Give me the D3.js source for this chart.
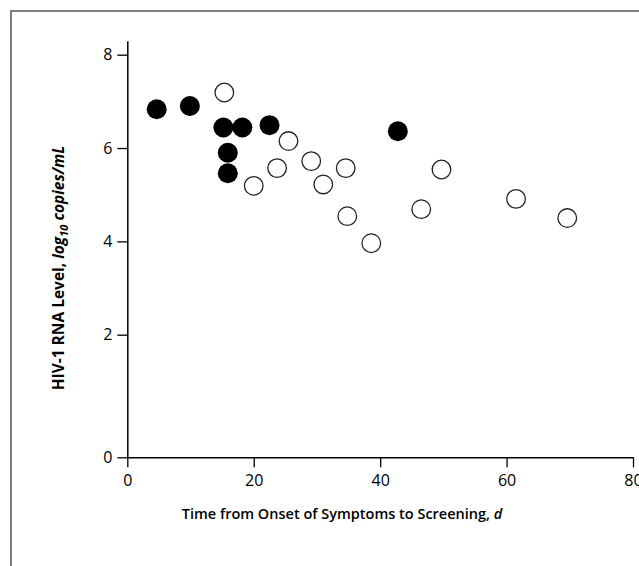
<!DOCTYPE html>
<html>
<head>
<meta charset="utf-8">
<script src="https://cdn.jsdelivr.net/npm/d3@7"></script>
<style>
  html, body { margin: 0; padding: 0; background: #fff; }
  svg { display: block; }
  text { font-family: "Open Sans", "Noto Sans", sans-serif; fill: #000; }
</style>
</head>
<body>
<svg id="chart" width="639" height="566"></svg>
<script>
// Data
const filledDays = [4.65, 9.9, 15.2, 18.2, 22.5, 15.9, 15.9, 42.8];
const filledLevels = [6.83, 6.9, 6.44, 6.44, 6.49, 5.9, 5.46, 6.36];
const openDays = [15.35, 25.5, 23.7, 20.0, 29.1, 34.55, 31.0, 49.7, 34.8, 46.5, 38.6, 61.5, 69.6];
const openLevels = [7.19, 6.15, 5.57, 5.19, 5.72, 5.57, 5.22, 5.54, 4.54, 4.69, 3.96, 4.91, 4.5];
const xTicks = [0, 20, 40, 60, 80];
const yTicks = [0, 2, 4, 6, 8];

const svg = d3.select("#chart");

// frame
svg.append("rect")
  .attr("x", 11).attr("y", 11)
  .attr("width", 700).attr("height", 700)
  .attr("fill", "none").attr("stroke", "#555").attr("stroke-width", 1.5);

const x = d3.scaleLinear().domain([0, 80]).range([127.3, 633]);
// y axis has a compressed break between 0 and 2 in the original
const y = d3.scaleLinear().domain([0, 2, 8.3]).range([457.3, 334.7, 40.7]);

const xAxis = svg.append("g")
  .attr("transform", `translate(0,${y(0)})`)
  .call(d3.axisBottom(x).tickValues(xTicks).tickSize(10).tickSizeOuter(0).tickPadding(7));
const yAxis = svg.append("g")
  .attr("transform", `translate(${x(0)},0)`)
  .call(d3.axisLeft(y).tickValues(yTicks).tickSize(10).tickSizeOuter(0).tickPadding(5));

[xAxis, yAxis].forEach(g => {
  g.select(".domain").attr("stroke", "#000").attr("stroke-width", 1.5);
  g.selectAll(".tick line").attr("stroke", "#000").attr("stroke-width", 1.3);
  g.selectAll(".tick text")
    .attr("font-family", '"Open Sans", "Noto Sans", sans-serif')
    .attr("font-size", 16).attr("fill", "#000");
});

// points
const openData = openDays.map((d, i) => ({d, v: openLevels[i]}));
const filledData = filledDays.map((d, i) => ({d, v: filledLevels[i]}));

svg.append("g").selectAll("circle").data(openData).join("circle")
  .attr("cx", p => x(p.d)).attr("cy", p => y(p.v)).attr("r", 9.3)
  .attr("fill", "#fff").attr("stroke", "#222").attr("stroke-width", 1.3);

svg.append("g").selectAll("circle").data(filledData).join("circle")
  .attr("cx", p => x(p.d)).attr("cy", p => y(p.v)).attr("r", 10)
  .attr("fill", "#000");

// x title
const xt = svg.append("text")
  .attr("x", 342).attr("y", 519)
  .attr("text-anchor", "middle")
  .attr("font-size", 14.5).attr("font-weight", 600);
xt.append("tspan").text("Time from Onset of Symptoms to Screening, ");
xt.append("tspan").attr("font-style", "italic").text("d");

// y title
const yt = svg.append("text")
  .attr("transform", "translate(64,268) rotate(-90)")
  .attr("text-anchor", "middle")
  .attr("font-size", 15.5).attr("font-weight", 700);
yt.append("tspan").text("HIV-1 RNA Level, ");
yt.append("tspan").attr("font-style", "italic").text("log");
yt.append("tspan").attr("font-style", "italic").attr("font-size", 11).attr("dy", 4).text("10");
yt.append("tspan").attr("font-style", "italic").attr("dy", -4).text(" copies/mL");
</script>
</body>
</html>
